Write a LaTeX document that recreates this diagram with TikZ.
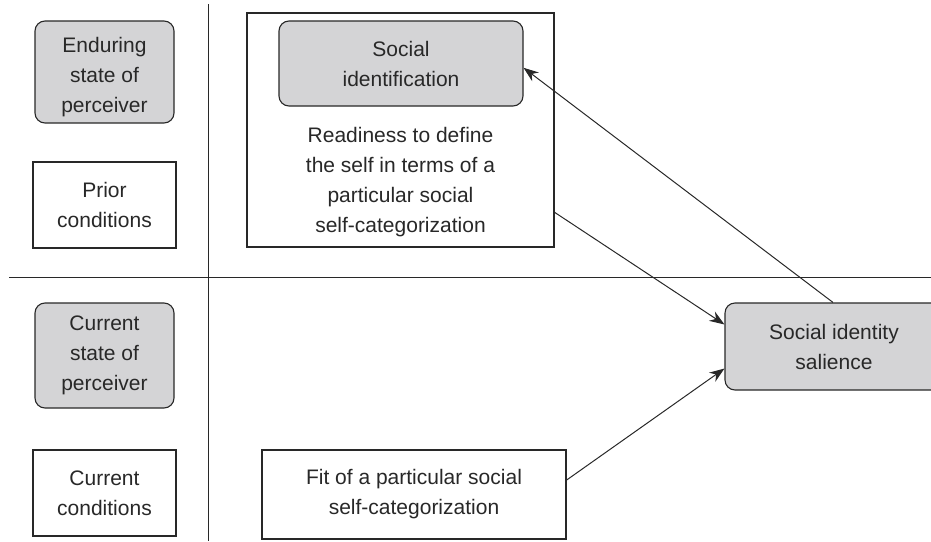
\documentclass[tikz,border=0pt]{standalone}
\usepackage{fontspec}
\setmainfont{Liberation Sans}
\usetikzlibrary{arrows.meta,calc}
\definecolor{boxgray}{RGB}{212,212,214}
\definecolor{ink}{RGB}{40,40,40}
\tikzset{
  lbl/.style={font=\fontsize{21}{30}\selectfont, text=ink, align=center, inner sep=0pt},
  plainbox/.style={lbl, draw=ink, line width=1.1pt, fill=white},
  graybox/.style={lbl, draw=ink, line width=1.1pt, fill=boxgray, rounded corners=10pt},
  divider/.style={draw=ink, line width=1pt},
  link/.style={draw=ink, line width=1pt, -{Stealth[length=15pt,width=11pt]}}
}
\begin{document}
\begin{tikzpicture}[x=1pt,y=-1pt]
  \useasboundingbox (0,0) rectangle (931,541);
  \clip (0,0) rectangle (931,541);

  % dividers between rows and columns
  \coordinate (vtop) at (208,4);
  \coordinate (vbot) at (208,541);
  \coordinate (hleft) at (9,277);
  \coordinate (hright) at (931,277);
  \draw[divider] (vtop) -- (vbot);
  \draw[divider] (hleft) -- (hright);

  % row labels
  \node[graybox, minimum width=139pt, minimum height=102pt] (endur) at (104.5,72) {};
  \node[lbl] (endurtext) at (104.5,77) {Enduring\\state of\\perceiver};
  \node[plainbox, minimum width=143pt, minimum height=86pt] (prior) at (104.5,205)
    {Prior\\conditions};
  \node[graybox, minimum width=139pt, minimum height=105pt] (curst) at (104.5,355.5)
    {Current\\state of\\perceiver};
  \node[plainbox, minimum width=143pt, minimum height=86pt] (curcond) at (104.5,493)
    {Current\\conditions};

  % social identification frame
  \node[plainbox, minimum width=307pt, minimum height=234pt] (frame) at (400.5,130) {};
  \node[graybox, minimum width=244pt, minimum height=85pt] (socid) at (401,63.5)
    {Social\\identification};
  \node[lbl] (ready) at (400.5,182)
    {Readiness to define\\the self in terms of a\\particular social\\self-categorization};

  % fit and salience
  \node[plainbox, minimum width=304pt, minimum height=89pt] (fit) at (414,494.5)
    {Fit of a particular social\\self-categorization};
  \node[graybox, minimum width=218pt, minimum height=87pt] (sal) at (834,346.5)
    {Social identity\\salience};

  % connectors
  \draw[link] ($(frame.north east)!0.85!(frame.south east)$)
           -- ($(sal.north west)!0.25!(sal.south west)$);
  \draw[link] ($(fit.north east)!0.34!(fit.south east)$)
           -- ($(sal.north west)!0.75!(sal.south west)$);
  \draw[link] ($(sal.north)+(-1,0)$)
           -- ($(socid.north east)!0.55!(socid.south east)$);
\end{tikzpicture}
\end{document}
